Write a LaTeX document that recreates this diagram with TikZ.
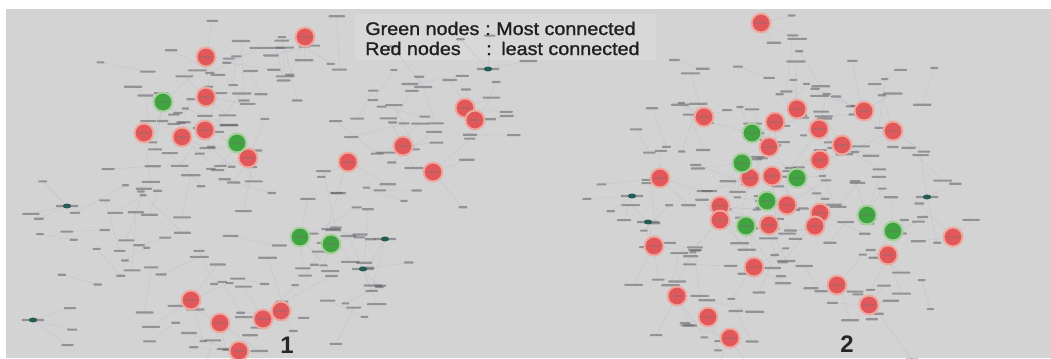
\documentclass[tikz,border=0pt]{standalone}
\usepackage{fontspec}
\setmainfont{Liberation Sans}
\newfontfamily\titlefont[FakeStretch=1.08,FakeBold=1.2]{Liberation Sans}
\usetikzlibrary{calc,shapes.geometric}
\definecolor{bgc}{RGB}{211,211,211}
\definecolor{titlebg}{RGB}{216,216,216}
\definecolor{redn}{RGB}{226,88,90}
\definecolor{redhalo}{RGB}{238,168,158}
\definecolor{greenn}{RGB}{64,164,64}
\definecolor{greenhalo}{RGB}{168,208,158}
\definecolor{edgec}{RGB}{194,196,206}
\definecolor{labc}{RGB}{95,95,100}
\definecolor{tealc}{RGB}{38,92,86}
\tikzset{
  lbl/.style={rectangle, fill=labc, fill opacity=0.55, minimum height=1.5pt, inner sep=0pt, rounded corners=0.5pt},
  edge/.style={draw=edgec, line width=0.25pt},
  rhub/.style={circle, fill=redn, draw=redhalo, line width=1.4pt, minimum size=13.5pt, inner sep=0pt},
  ghub/.style={circle, fill=greenn, draw=greenhalo, line width=1.4pt, minimum size=13.5pt, inner sep=0pt},
  hlbl/.style={rectangle, fill=black!55, fill opacity=0.35, minimum width=8pt, minimum height=1.6pt, inner sep=0pt},
  tnode/.style={ellipse, fill=tealc, minimum width=6pt, minimum height=3.5pt, inner sep=0pt},
  ttl/.style={inner sep=0pt, text=black!88, font=\titlefont\fontsize{13}{15}\selectfont},
  num/.style={inner sep=0pt, text=black!85, font=\bfseries\fontsize{17}{18}\selectfont}
}
% pass 1: coordinates and connectors
\newcommand\spokes[1]{%
  \foreach \nm/\x/\y in #1 {%
    \coordinate (c\nm) at (\x,\y);
    \foreach \k in {1,2,3}{%
      \pgfmathsetmacro\ang{rnd*360}%
      \pgfmathsetmacro\dd{22+rnd*28}%
      \coordinate (\nm s\k) at ($(c\nm)+(\ang:\dd)$);
      \draw[edge] (c\nm) -- (\nm s\k);
    }%
  }}
\newcommand\cloudpairs[6]{%
  \foreach \i in {1,...,#2}{%
    \pgfmathsetmacro\rr{sqrt(rnd)}%
    \pgfmathsetmacro\aa{rnd*360}%
    \pgfmathsetmacro\px{#3+#5*\rr*cos(\aa)}%
    \pgfmathsetmacro\py{#4+#6*\rr*sin(\aa)}%
    \pgfmathsetmacro\bb{rnd*360}%
    \pgfmathsetmacro\dd{25+rnd*35}%
    \coordinate (#1a\i) at (\px,\py);
    \coordinate (#1b\i) at ($(#1a\i)+(\bb:\dd)$);
    \draw[edge] (#1a\i) -- (#1b\i);
  }}
% pass 2: label nodes
\newcommand\spokelabels[1]{%
  \foreach \nm/\x/\y in #1 {%
    \foreach \k in {1,2,3}{%
      \pgfmathsetmacro\ww{5+rnd*9}%
      \node[lbl, minimum width=\ww pt] (\nm L\k) at (\nm s\k) {};
    }%
  }}
\newcommand\cloudlabels[2]{%
  \foreach \i in {1,...,#2}{%
    \pgfmathsetmacro\wa{5+rnd*9}%
    \pgfmathsetmacro\wb{5+rnd*9}%
    \node[lbl, minimum width=\wa pt] (#1A\i) at (#1a\i) {};
    \node[lbl, minimum width=\wb pt] (#1B\i) at (#1b\i) {};
  }}
\def\redA{r1/305/37, r2/206/57, r3/206/97, r4/144/133, r5/182/137, r6/205/130, r7/248/158, r8/348/162, r9/465/108, r10/475/120, r11/403/146, r12/433/172, r13/191/300, r14/220/323, r15/263/319, r16/281/311, r17/239/351}
\def\greenA{g1/163/102, g2/237/143, g3/300/237, g4/331/244}
\def\redB{q1/761/23, q2/704/117, q3/797/109, q4/864/111, q5/775/122, q6/819/129, q7/893/131, q8/769/147, q9/842/145, q10/820/160, q11/660/178, q12/750/178, q13/772/176, q14/720/206, q15/720/220, q16/787/205, q17/820/213, q18/815/226, q19/769/225, q20/953/237, q21/654/246, q22/888/255, q23/754/267, q24/837/285, q25/677/296, q26/869/305, q27/708/317, q28/730/338}
\def\greenB{k1/752/133, k2/742/163, k3/797/178, k4/767/201, k5/746/226, k6/867/215, k7/893/231}
\def\tealAll{t1/67/206, t2/33/320, t3/385/239, t4/363/269, t5/488/69, t6/632/196, t7/648/222, t8/927/197}
\begin{document}
\begin{tikzpicture}[x=0.025cm, y=-0.025cm]
\pgfmathsetseed{4242}
\useasboundingbox (0,0) rectangle (1051,358);
\fill[white] (0,0) rectangle (1051,358);
\fill[bgc] (6,9) rectangle (1051,358);
\fill[titlebg] (355,14) rectangle (656,60);
% connectors
\cloudpairs{pu}{42}{290}{115}{195}{85}
\cloudpairs{pl}{38}{210}{265}{190}{82}
\cloudpairs{pr}{48}{790}{190}{165}{150}
\spokes{\redA}
\spokes{\greenA}
\spokes{\redB}
\spokes{\greenB}
\spokes{\tealAll}
% small label nodes
\cloudlabels{pu}{42}
\cloudlabels{pl}{38}
\cloudlabels{pr}{48}
\spokelabels{\redA}
\spokelabels{\greenA}
\spokelabels{\redB}
\spokelabels{\greenB}
\spokelabels{\tealAll}
% teal nodes
\foreach \nm/\x/\y in \tealAll {%
  \node[lbl, minimum width=16pt] (h\nm b) at (c\nm) {};
  \node[tnode] (h\nm) at (c\nm) {};
}
% hubs
\foreach \nm/\x/\y in \redA {\node[rhub] (h\nm) at (c\nm) {}; \node[hlbl] (h\nm t) at (c\nm) {};}
\foreach \nm/\x/\y in \greenA {\node[ghub] (h\nm) at (c\nm) {}; \node[hlbl] (h\nm t) at (c\nm) {};}
\foreach \nm/\x/\y in \redB {\node[rhub] (h\nm) at (c\nm) {}; \node[hlbl] (h\nm t) at (c\nm) {};}
\foreach \nm/\x/\y in \greenB {\node[ghub] (h\nm) at (c\nm) {}; \node[hlbl] (h\nm t) at (c\nm) {};}
% title
\node[ttl, anchor=base west] (t1a) at (365,35) {Green nodes};
\node[ttl, anchor=base] (t1b) at (488,35) {:};
\node[ttl, anchor=base west] (t1c) at (496,35) {Most connected};
\node[ttl, anchor=base west] (t2a) at (365,55) {Red nodes};
\node[ttl, anchor=base] (t2b) at (489,55) {:};
\node[ttl, anchor=base west] (t2c) at (501,55) {least connected};
% panel numbers
\node[num, anchor=base] (n1) at (287,353) {1};
\node[num, anchor=base] (n2) at (847,352) {2};
\end{tikzpicture}
\end{document}
